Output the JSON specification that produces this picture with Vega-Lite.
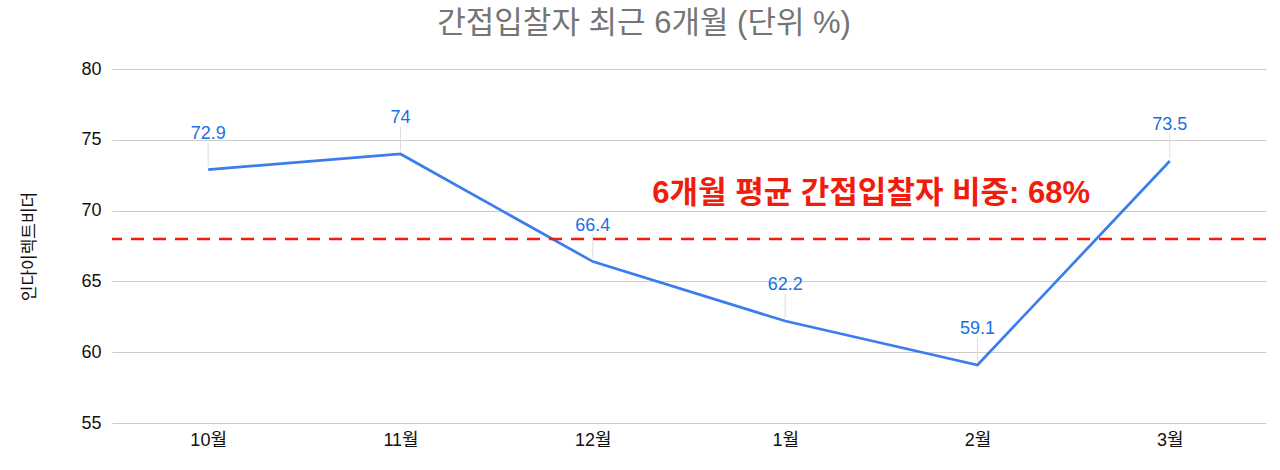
{
  "$schema": "https://vega.github.io/schema/vega-lite/v6.json",
  "autosize": "none",
  "width": 1154,
  "height": 354,
  "padding": {"left": 112, "top": 69, "right": 14, "bottom": 47},
  "background": "white",
  "title": {
    "text": "간접입찰자 최근 6개월 (단위 %)",
    "color": "#757575",
    "fontSize": 31,
    "fontWeight": "normal",
    "anchor": "middle",
    "frame": "bounds",
    "offset": 20
  },
  "datasets": {
    "monthly": [
      {"month": "10월", "value": 72.9},
      {"month": "11월", "value": 74},
      {"month": "12월", "value": 66.4},
      {"month": "1월", "value": 62.2},
      {"month": "2월", "value": 59.1},
      {"month": "3월", "value": 73.5}
    ],
    "average": [
      {"month": "1월", "value": 68, "label": "6개월 평균 간접입찰자 비중: 68%"}
    ]
  },
  "data": {"name": "monthly"},
  "encoding": {
    "x": {
      "field": "month",
      "type": "nominal",
      "sort": null,
      "scale": {"type": "point", "padding": 0.5},
      "axis": {
        "title": null,
        "labelAngle": 0,
        "labelFontSize": 18,
        "labelColor": "#111111",
        "labelPadding": 8,
        "domain": false,
        "ticks": false,
        "grid": false
      }
    },
    "y": {
      "field": "value",
      "type": "quantitative",
      "scale": {"domain": [55, 80], "nice": false, "zero": false},
      "axis": {
        "title": "인다이렉트비더",
        "titleFontSize": 17,
        "titleFontWeight": "normal",
        "titleColor": "#111111",
        "titlePadding": 42,
        "values": [55, 60, 65, 70, 75, 80],
        "labelFontSize": 18,
        "labelColor": "#111111",
        "labelPadding": 11,
        "domain": false,
        "ticks": false,
        "gridColor": "#cccccc",
        "gridWidth": 1.2
      }
    }
  },
  "layer": [
    {
      "mark": {"type": "rule", "color": "#dddddd", "strokeWidth": 1, "yOffset": -3, "y2Offset": -27},
      "encoding": {
        "y2": {"field": "value"}
      }
    },
    {
      "mark": {"type": "line", "color": "#3b7ded", "strokeWidth": 2.7}
    },
    {
      "mark": {
        "type": "text",
        "color": "#1a6fe0",
        "fontSize": 18,
        "baseline": "alphabetic",
        "dy": -31
      },
      "encoding": {
        "text": {"field": "value", "type": "quantitative"}
      }
    },
    {
      "data": {"name": "average"},
      "mark": {"type": "rule", "color": "#f01c0c", "strokeWidth": 2.5, "strokeDash": [13, 9]},
      "encoding": {
        "x": null
      }
    },
    {
      "data": {"name": "average"},
      "mark": {
        "type": "text",
        "color": "#f01c0c",
        "fontSize": 31,
        "fontWeight": "bold",
        "baseline": "middle",
        "dx": 86,
        "dy": -45
      },
      "encoding": {
        "text": {"field": "label", "type": "nominal"}
      }
    }
  ],
  "config": {
    "font": "Liberation Sans, Noto Sans CJK KR, sans-serif",
    "view": {"stroke": null}
  }
}
